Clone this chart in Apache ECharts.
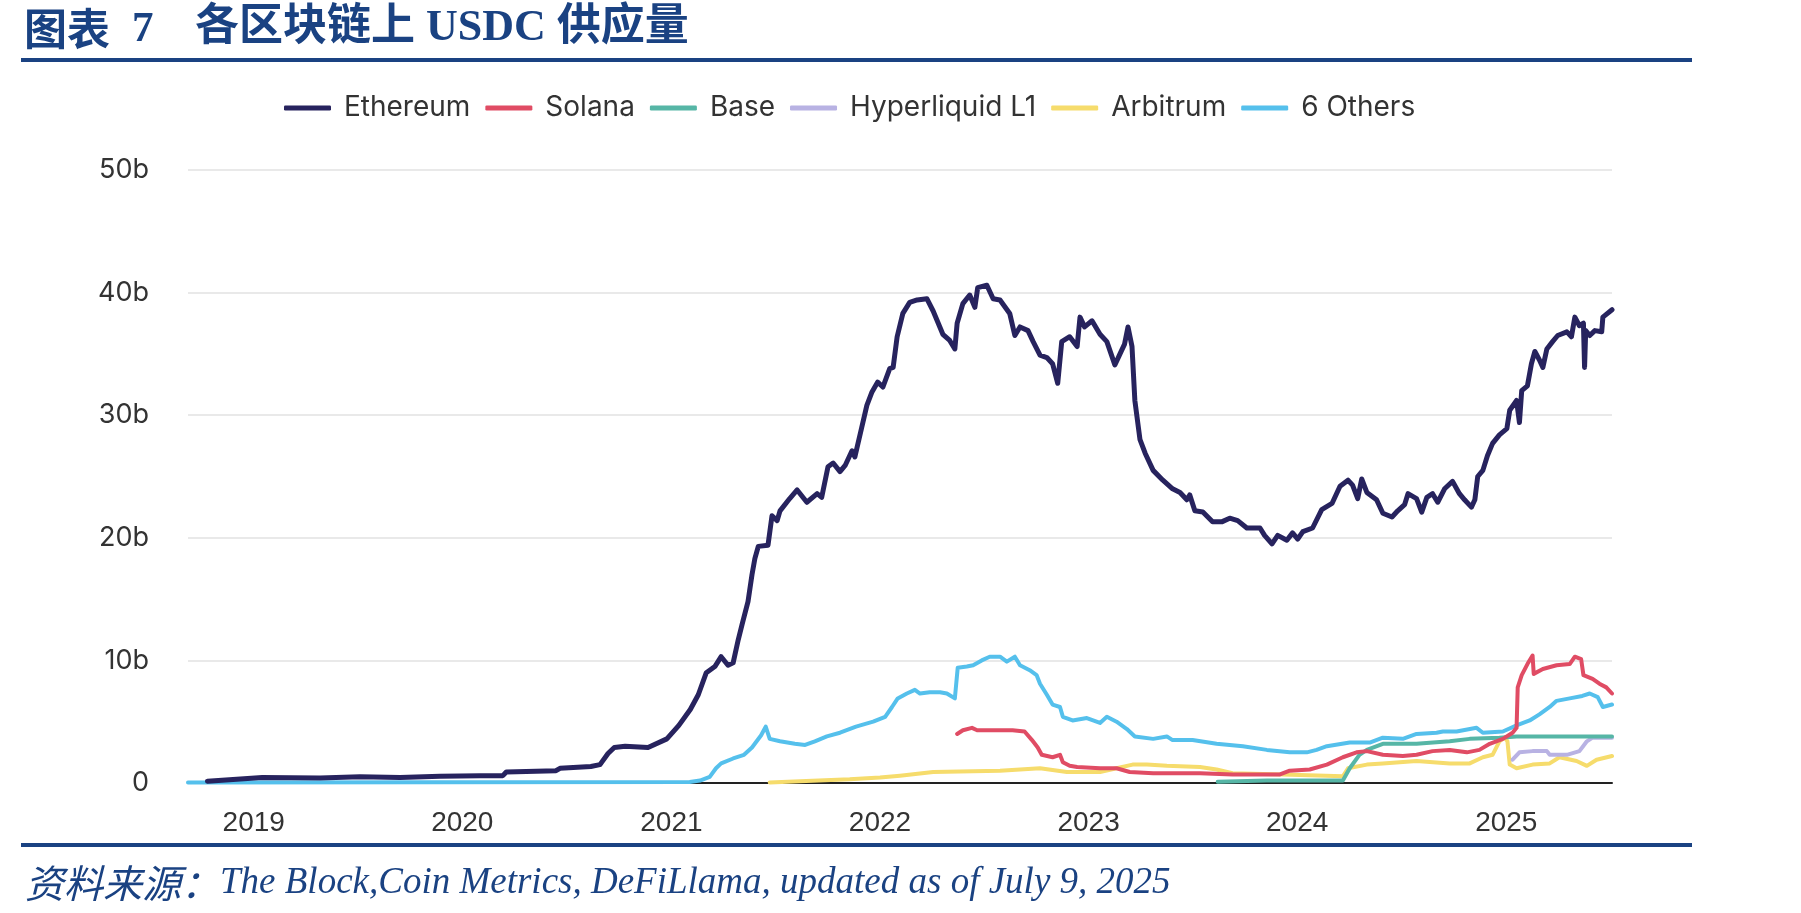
<!DOCTYPE html>
<html>
<head>
<meta charset="utf-8">
<script src="https://cdn.jsdelivr.net/npm/echarts@6/dist/echarts.min.js"></script>
<style>
html,body{margin:0;padding:0;background:#fff;}
#chart{width:1801px;height:913px;}
</style>
</head>
<body>
<div id="chart"></div>
<script>
// ---- Data (values in billions of USDC) ----
const titleLabel = '图表';
const titleNumber = '7';
const titleText = '各区块链上 USDC 供应量';
const sourceLabel = '资料来源：';
const sourceText = 'The Block,Coin Metrics, DeFiLlama, updated as of July 9, 2025';
const seriesNames = ['Ethereum', 'Solana', 'Base', 'Hyperliquid L1', 'Arbitrum', '6 Others'];
const yTicks = [0, 10, 20, 30, 40, 50];
const xStart = '2018-09-08';
const xEnd = '2025-07-05';

const ethereum = [
['2018-10-12',0.15],['2019-01-16',0.45],['2019-04-27',0.4],['2019-07-06',0.5],['2019-09-14',0.45],
['2019-11-23',0.55],['2020-02-01',0.6],['2020-03-12',0.6],['2020-03-18',0.9],['2020-06-13',1.0],
['2020-06-20',1.2],['2020-08-13',1.35],['2020-08-29',1.5],['2020-09-12',2.4],['2020-09-23',2.9],
['2020-10-12',3.0],['2020-11-21',2.9],['2020-12-24',3.6],['2021-01-14',4.7],['2021-02-03',6.0],
['2021-02-17',7.2],['2021-03-03',9.0],['2021-03-18',9.5],['2021-03-29',10.3],['2021-04-10',9.6],
['2021-04-19',9.8],['2021-04-28',11.7],['2021-05-05',13.0],['2021-05-15',14.8],['2021-05-22',17.0],
['2021-05-27',18.3],['2021-06-02',19.3],['2021-06-19',19.4],['2021-06-26',21.8],['2021-07-05',21.4],
['2021-07-10',22.2],['2021-07-27',23.2],['2021-08-09',23.9],['2021-08-26',22.9],['2021-09-13',23.6],
['2021-09-21',23.3],['2021-10-02',25.8],['2021-10-11',26.1],['2021-10-23',25.4],['2021-11-01',25.9],
['2021-11-13',27.1],['2021-11-18',26.6],['2021-11-30',29.0],['2021-12-09',30.8],['2021-12-18',31.9],
['2021-12-28',32.7],['2022-01-06',32.3],['2022-01-18',33.8],['2022-01-24',33.9],['2022-01-31',36.4],
['2022-02-10',38.3],['2022-02-22',39.2],['2022-03-07',39.4],['2022-03-24',39.5],['2022-04-04',38.5],
['2022-04-21',36.6],['2022-05-03',36.1],['2022-05-12',35.4],['2022-05-16',37.5],['2022-05-26',39.1],
['2022-06-07',39.8],['2022-06-16',38.8],['2022-06-21',40.4],['2022-07-07',40.6],['2022-07-18',39.5],
['2022-07-30',39.4],['2022-08-16',38.3],['2022-08-25',36.5],['2022-09-03',37.2],['2022-09-17',36.9],
['2022-09-26',36.0],['2022-10-08',34.9],['2022-10-20',34.7],['2022-10-30',34.2],['2022-11-08',32.6],
['2022-11-15',36.0],['2022-11-29',36.4],['2022-12-12',35.6],['2022-12-17',38.0],['2022-12-25',37.2],
['2023-01-07',37.7],['2023-01-21',36.6],['2023-02-02',36.0],['2023-02-16',34.1],['2023-02-25',35.0],
['2023-03-05',35.8],['2023-03-11',37.2],['2023-03-18',35.6],['2023-03-23',31.2],['2023-04-01',28.0],
['2023-04-10',26.9],['2023-04-24',25.5],['2023-05-11',24.7],['2023-05-28',24.0],['2023-06-10',23.7],
['2023-06-22',23.1],['2023-06-27',23.5],['2023-07-06',22.2],['2023-07-20',22.1],['2023-08-06',21.3],
['2023-08-22',21.3],['2023-09-05',21.6],['2023-09-19',21.4],['2023-10-05',20.8],['2023-10-28',20.8],
['2023-11-05',20.2],['2023-11-18',19.5],['2023-11-28',20.2],['2023-12-14',19.8],['2023-12-24',20.4],
['2024-01-02',19.9],['2024-01-11',20.5],['2024-01-28',20.8],['2024-02-13',22.3],['2024-03-02',22.8],
['2024-03-16',24.2],['2024-03-30',24.7],['2024-04-07',24.3],['2024-04-16',23.2],['2024-04-23',24.8],
['2024-05-02',23.7],['2024-05-19',23.1],['2024-05-30',22.0],['2024-06-15',21.7],['2024-06-25',22.2],
['2024-07-07',22.7],['2024-07-13',23.6],['2024-07-28',23.2],['2024-08-06',22.1],['2024-08-15',23.3],
['2024-08-25',23.6],['2024-09-03',22.9],['2024-09-15',24.0],['2024-09-29',24.6],['2024-10-11',23.6],
['2024-10-20',23.1],['2024-11-01',22.5],['2024-11-07',23.1],['2024-11-12',25.0],['2024-11-21',25.5],
['2024-11-29',26.7],['2024-12-08',27.7],['2024-12-20',28.4],['2025-01-02',28.9],['2025-01-07',30.4],
['2025-01-19',31.2],['2025-01-24',29.4],['2025-01-28',32.0],['2025-02-07',32.4],['2025-02-14',34.2],
['2025-02-20',35.2],['2025-02-28',34.5],['2025-03-06',33.9],['2025-03-13',35.4],['2025-03-23',36.0],
['2025-04-01',36.5],['2025-04-17',36.8],['2025-04-25',36.4],['2025-05-01',38.0],['2025-05-09',37.3],
['2025-05-16',37.5],['2025-05-18',33.9],['2025-05-20',36.9],['2025-05-27',36.5],['2025-06-05',36.9],
['2025-06-17',36.8],['2025-06-19',38.0],['2025-07-05',38.6]
];

const solana = [
['2022-05-16',4.0],['2022-05-26',4.3],['2022-06-11',4.5],['2022-06-20',4.3],['2022-07-18',4.3],
['2022-08-21',4.3],['2022-09-11',4.2],['2022-09-24',3.5],['2022-10-04',2.9],['2022-10-11',2.3],
['2022-10-30',2.1],['2022-11-12',2.3],['2022-11-17',1.7],['2022-11-29',1.4],['2022-12-12',1.3],
['2023-01-21',1.2],['2023-02-19',1.2],['2023-03-14',0.9],['2023-04-24',0.8],['2023-07-15',0.8],
['2023-09-10',0.7],['2023-11-09',0.7],['2023-12-02',0.7],['2023-12-19',1.0],['2024-01-23',1.1],
['2024-02-22',1.5],['2024-03-21',2.1],['2024-04-14',2.5],['2024-05-02',2.6],['2024-05-30',2.3],
['2024-07-04',2.2],['2024-07-28',2.3],['2024-08-25',2.6],['2024-09-24',2.7],['2024-10-24',2.5],
['2024-11-15',2.7],['2024-12-03',3.2],['2024-12-26',3.6],['2025-01-12',4.1],['2025-01-19',4.5],
['2025-01-21',7.8],['2025-01-28',8.8],['2025-02-07',9.7],['2025-02-16',10.4],['2025-02-18',8.9],
['2025-03-06',9.3],['2025-03-30',9.6],['2025-04-22',9.7],['2025-05-01',10.3],['2025-05-12',10.1],
['2025-05-16',8.8],['2025-06-01',8.5],['2025-06-13',8.1],['2025-06-25',7.8],['2025-07-05',7.3]
];

const base = [
['2023-08-15',0.1],['2023-11-09',0.2],['2024-03-21',0.2],['2024-04-02',1.2],['2024-04-19',2.3],
['2024-05-02',2.7],['2024-05-30',3.2],['2024-07-28',3.2],['2024-09-24',3.4],['2024-10-29',3.6],
['2024-12-20',3.7],['2025-01-19',3.8],['2025-03-18',3.8],['2025-07-05',3.8]
];

const hyperliquid = [
['2025-01-12',1.9],['2025-01-24',2.5],['2025-02-16',2.6],['2025-03-13',2.6],['2025-03-18',2.3],
['2025-04-17',2.3],['2025-05-09',2.6],['2025-05-22',3.4],['2025-06-01',3.7],['2025-07-05',3.7]
];

const arbitrum = [
['2021-06-22',0.05],['2021-08-14',0.15],['2021-11-09',0.3],['2022-01-01',0.45],['2022-02-05',0.6],
['2022-04-04',0.9],['2022-07-30',1.0],['2022-10-08',1.2],['2022-11-24',0.9],['2023-01-21',0.9],
['2023-02-19',1.2],['2023-03-19',1.5],['2023-04-13',1.5],['2023-05-18',1.4],['2023-07-15',1.3],
['2023-08-13',1.1],['2023-09-10',0.8],['2023-12-07',0.7],['2024-03-21',0.55],['2024-03-30',1.2],
['2024-05-02',1.5],['2024-05-30',1.6],['2024-07-28',1.8],['2024-09-24',1.6],['2024-10-29',1.6],
['2024-11-21',2.1],['2024-12-08',2.3],['2024-12-20',3.4],['2024-12-29',3.7],['2025-01-03',3.4],
['2025-01-07',1.5],['2025-01-19',1.2],['2025-02-16',1.5],['2025-03-18',1.6],['2025-04-04',2.1],
['2025-05-04',1.8],['2025-05-22',1.4],['2025-06-08',1.9],['2025-07-05',2.2]
];

const others = [
['2018-09-08',0.05],['2021-02-02',0.08],['2021-02-20',0.2],['2021-03-09',0.5],['2021-03-20',1.2],
['2021-03-29',1.6],['2021-04-19',2.0],['2021-05-08',2.3],['2021-05-22',2.9],['2021-06-07',3.9],
['2021-06-15',4.6],['2021-06-22',3.6],['2021-07-10',3.4],['2021-08-05',3.2],['2021-08-23',3.1],
['2021-09-09',3.4],['2021-09-30',3.8],['2021-10-23',4.1],['2021-11-20',4.6],['2021-12-20',5.0],
['2022-01-10',5.4],['2022-01-22',6.2],['2022-02-01',6.9],['2022-02-17',7.3],['2022-03-03',7.6],
['2022-03-12',7.3],['2022-03-29',7.4],['2022-04-16',7.4],['2022-04-28',7.3],['2022-05-12',6.9],
['2022-05-17',9.4],['2022-06-02',9.5],['2022-06-13',9.6],['2022-06-28',10.0],['2022-07-12',10.3],
['2022-07-30',10.3],['2022-08-11',9.9],['2022-08-25',10.3],['2022-09-03',9.6],['2022-09-20',9.2],
['2022-10-02',8.8],['2022-10-08',8.1],['2022-10-20',7.2],['2022-10-30',6.4],['2022-11-12',6.2],
['2022-11-17',5.4],['2022-12-04',5.1],['2022-12-29',5.3],['2023-01-21',4.9],['2023-02-02',5.4],
['2023-02-19',5.0],['2023-03-09',4.4],['2023-03-23',3.8],['2023-04-24',3.6],['2023-05-18',3.8],
['2023-05-28',3.5],['2023-07-02',3.5],['2023-08-13',3.2],['2023-09-28',3.0],['2023-11-09',2.7],
['2023-12-19',2.5],['2024-01-18',2.5],['2024-02-04',2.7],['2024-02-22',3.0],['2024-04-02',3.3],
['2024-05-07',3.3],['2024-05-30',3.7],['2024-07-04',3.6],['2024-07-28',4.0],['2024-09-01',4.1],
['2024-09-12',4.2],['2024-10-06',4.2],['2024-11-10',4.5],['2024-11-21',4.1],['2024-12-26',4.2],
['2025-01-19',4.7],['2025-02-11',5.1],['2025-02-28',5.6],['2025-03-18',6.2],['2025-03-30',6.7],
['2025-04-22',6.9],['2025-05-14',7.1],['2025-05-27',7.3],['2025-06-10',7.0],['2025-06-19',6.2],
['2025-07-05',6.4]
];

const seriesData = [ethereum, solana, base, hyperliquid, arbitrum, others];
const seriesColors = ['#27235e', '#e04c64', '#56b6a6', '#b8b2e3', '#f6dc6c', '#55c0ec'];
const seriesWidths = [5, 4, 4, 4, 4, 4];
const seriesZ = [8, 6, 4, 3, 2, 5];

const navy = '#1a4282';
const chart = echarts.init(document.getElementById('chart'), null, {renderer: 'canvas'});

const option = {
  animation: false,
  backgroundColor: '#ffffff',
  grid: {left: 188, right: 189, top: 170, bottom: 130, containLabel: false},
  legend: {
    left: 284, top: 94, padding: 0,
    itemWidth: 47, itemHeight: 5, itemGap: 15,
    icon: 'roundRect',
    data: seriesNames,
    textStyle: {fontSize: 28, color: '#333333', fontFamily: 'Inter, "Liberation Sans", sans-serif', padding: [0, 0, 0, 8]}
  },
  xAxis: {
    type: 'time',
    min: xStart, max: xEnd,
    minInterval: 365 * 24 * 3600 * 1000,
    maxInterval: 366 * 24 * 3600 * 1000,
    axisLine: {show: true, lineStyle: {color: '#222222', width: 2}},
    axisTick: {show: false},
    splitLine: {show: false},
    axisLabel: {
      show: true, margin: 26, fontSize: 28, color: '#333333',
      fontFamily: '"Liberation Sans", Arial, sans-serif',
      showMinLabel: false, showMaxLabel: false,
      hideOverlap: false,
      formatter: function (v) {
        const d = new Date(v);
        return (d.getMonth() === 0 && d.getDate() === 1) ? String(d.getFullYear()) : '';
      }
    }
  },
  yAxis: {
    type: 'value',
    min: yTicks[0], max: yTicks[yTicks.length - 1], interval: 10,
    axisLine: {show: false}, axisTick: {show: false},
    splitLine: {show: true, lineStyle: {color: '#e9e9e9', width: 2}},
    axisLabel: {
      margin: 39, fontSize: 27, color: '#333333',
      fontFamily: 'Inter, "Liberation Sans", sans-serif',
      formatter: function (v) { return v === 0 ? '0' : v + 'b'; }
    }
  },
  graphic: [
    {type: 'text', left: 24, top: 7, style: {text: titleLabel, fontSize: 43, fontWeight: 'bold', fill: navy, fontFamily: '"Noto Sans CJK SC", sans-serif'}},
    {type: 'text', left: 132, top: 8, style: {text: titleNumber, fontSize: 43, fontWeight: 'bold', fill: navy, fontFamily: '"Liberation Serif", serif'}},
    {type: 'text', left: 195, top: 7, style: {text: titleText, fontSize: 44, fontWeight: 'bold', fill: navy, fontFamily: '"Liberation Serif", "Noto Sans CJK SC", serif'}},
    {type: 'rect', shape: {x: 21, y: 58, width: 1671, height: 4}, style: {fill: navy}},
    {type: 'rect', shape: {x: 21, y: 843, width: 1671, height: 4}, style: {fill: navy}},
    {type: 'text', left: 25, top: 864, style: {
      text: '{a|' + sourceLabel + '}{b|' + sourceText + '}',
      rich: {
        a: {fontSize: 39, fill: navy, fontFamily: '"Noto Sans CJK SC", sans-serif', fontStyle: 'italic'},
        b: {fontSize: 37, fill: navy, fontStyle: 'italic', fontFamily: '"Liberation Serif", serif'}
      }
    }}
  ],
  series: seriesNames.map(function (name, i) {
    return {
      name: name,
      type: 'line',
      data: seriesData[i],
      showSymbol: false,
      symbol: 'none',
      z: seriesZ[i],
      color: seriesColors[i],
      lineStyle: {color: seriesColors[i], width: seriesWidths[i], join: 'round', cap: 'round'},
      emphasis: {disabled: true}
    };
  })
};
chart.setOption(option);
</script>
</body>
</html>
